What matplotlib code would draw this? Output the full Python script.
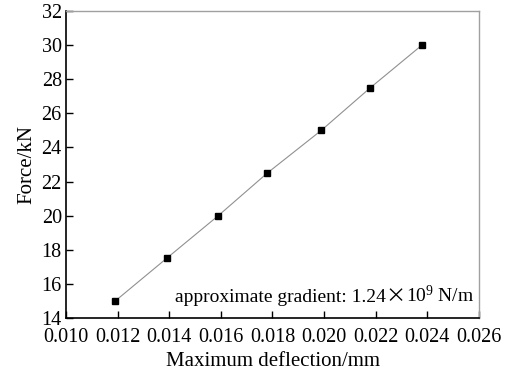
import matplotlib
matplotlib.use('Agg')
import matplotlib.pyplot as plt

plt.rcParams['font.family'] = ['Liberation Serif', 'DejaVu Serif']
plt.rcParams['mathtext.fontset'] = 'custom'
plt.rcParams['mathtext.rm'] = 'Liberation Serif'
plt.rcParams['mathtext.it'] = 'Liberation Serif:italic'

# data
deflection = [0.01191, 0.01390, 0.01590, 0.01780, 0.01989, 0.02179, 0.02379]
force = [15.0, 17.5, 20.0, 22.5, 25.0, 27.5, 30.0]

xticks = [0.010, 0.012, 0.014, 0.016, 0.018, 0.020, 0.022, 0.024, 0.026]
yticks = [14, 16, 18, 20, 22, 24, 26, 28, 30, 32]

fig = plt.figure(figsize=(5.13, 3.81), dpi=100)
ax = fig.add_axes([66/513, 1 - 318/381, (479-66)/513, (318-11)/381])

ax.plot(deflection, force, color='#909090', linewidth=0.8, zorder=1)
ax.plot(deflection, force, linestyle='none', marker='s', markersize=5,
        color='black', zorder=2)

ax.set_xlim(0.010, 0.026)
ax.set_ylim(14, 32)
ax.set_xticks(xticks)
ax.set_xticklabels([f'{v:.3f}' for v in xticks])
ax.set_yticks(yticks)
ax.tick_params(direction='in', length=5, width=1, labelsize=14.5, top=False, right=False)
ax.tick_params(axis='x', pad=7)
ax.tick_params(axis='y', pad=3)

for s in ['left', 'bottom']:
    ax.spines[s].set_linewidth(1.2)
for s in ['top', 'right']:
    ax.spines[s].set_color('#a0a0a0')
    ax.spines[s].set_linewidth(1.0)

ax.set_xlabel('Maximum deflection/mm', fontsize=15, labelpad=4)
ax.set_ylabel('Force/kN', fontsize=15, labelpad=4)

# annotation, built from pieces so the cross can be the wide CJK one
y0 = 0.052
t1 = ax.text(0.264, y0, 'approximate gradient: 1.24', transform=ax.transAxes,
             ha='left', va='baseline', fontsize=14)
t2 = ax.annotate('\u00d7', xy=(1, y0), xycoords=(t1, 'axes fraction'),
                 ha='left', va='baseline', fontsize=14.5,
                 family=['Noto Sans CJK SC', 'DejaVu Sans'])
t3 = ax.annotate(r'10$^{9}$ N/m', xy=(1, y0), xycoords=(t2, 'axes fraction'),
                 ha='left', va='baseline', fontsize=14)

fig.savefig('out.png', dpi=100)
